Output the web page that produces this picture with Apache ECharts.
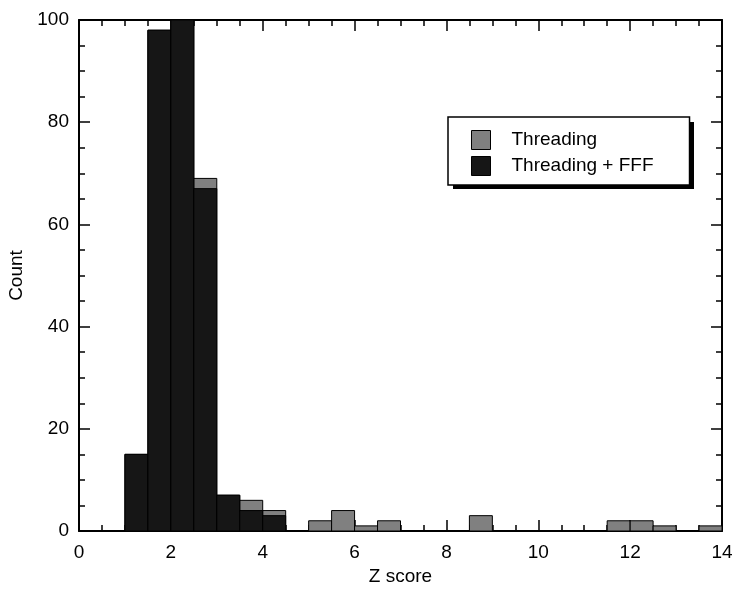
<!DOCTYPE html>
<html>
<head>
<meta charset="utf-8">
<script src="https://cdn.jsdelivr.net/npm/echarts@6/dist/echarts.min.js"></script>
<style>
  html, body { margin: 0; padding: 0; background: #fff; }
  #main { width: 732px; height: 590px; }
</style>
</head>
<body>
<div id="main"></div>
<script>
// histogram bins, width 0.5 (lower edge -> count)
var binWidth = 0.5;
var threadingEdges = [1, 1.5, 2, 2.5, 3, 3.5, 4, 5, 5.5, 6, 6.5, 8.5, 11.5, 12, 12.5, 13.5];
var threadingCounts = [15, 98, 100, 69, 7, 6, 4, 2, 4, 1, 2, 3, 2, 2, 1, 1];
var fffEdges = [1, 1.5, 2, 2.5, 3, 3.5, 4];
var fffCounts = [15, 98, 100, 67, 7, 4, 3];
var xTicks = [0, 2, 4, 6, 8, 10, 12, 14];
var yTicks = [0, 20, 40, 60, 80, 100];

var font = 'Liberation Sans, Arial, Helvetica, sans-serif';

function toBins(edges, counts) {
  var out = [];
  for (var i = 0; i < edges.length; i++) {
    out.push([edges[i], edges[i] + binWidth, counts[i]]);
  }
  return out;
}

function renderBin(params, api) {
  var top = api.coord([api.value(0), api.value(2)]);
  var bottom = api.coord([api.value(1), 0]);
  return {
    type: 'rect',
    shape: { x: top[0], y: top[1], width: bottom[0] - top[0], height: bottom[1] - top[1] },
    style: api.style()
  };
}

var chart = echarts.init(document.getElementById('main'));

// same frame style on all four sides, ticks pointing in
function frameAxis(extra) {
  var a = {
    type: 'value',
    axisLine: { show: true, onZero: false, lineStyle: { color: '#000', width: 2 } },
    axisTick: { show: true, inside: true, length: 11, lineStyle: { color: '#000', width: 1.5 } },
    minorTick: { show: true, splitNumber: 4, length: 6, lineStyle: { color: '#000', width: 1.5 } },
    axisLabel: { show: false },
    splitLine: { show: false }
  };
  for (var k in extra) a[k] = extra[k];
  return a;
}

var labelStyle = { show: true, fontFamily: font, fontSize: 19, color: '#000' };

var option = {
  backgroundColor: '#fff',
  animation: false,
  grid: { left: 79, right: 10, top: 20, bottom: 59, outerBoundsMode: 'none' },
  graphic: [{
    // legend drop shadow
    type: 'rect',
    left: 453,
    top: 122,
    shape: { width: 241, height: 67 },
    style: { fill: '#000' },
    z: 3
  }],
  legend: {
    orient: 'vertical',
    left: 448,
    top: 117,
    padding: [13, 36, 9, 23],
    itemWidth: 19,
    itemHeight: 19,
    itemGap: 6,
    icon: 'rect',
    backgroundColor: '#fff',
    borderColor: '#000',
    borderWidth: 1.5,
    z: 5,
    itemStyle: { borderColor: '#000', borderWidth: 1 },
    textStyle: { fontFamily: font, fontSize: 19, color: '#000', padding: [0, 0, 0, 16] },
    data: ['Threading', 'Threading + FFF']
  },
  xAxis: [frameAxis({
    min: xTicks[0],
    max: xTicks[xTicks.length - 1],
    interval: 2,
    name: 'Z score',
    nameLocation: 'middle',
    nameGap: 36,
    nameTextStyle: { fontFamily: font, fontSize: 19, color: '#000' },
    axisLabel: Object.assign({ margin: 12 }, labelStyle)
  }), frameAxis({
    position: 'top',
    min: xTicks[0],
    max: xTicks[xTicks.length - 1],
    interval: 2
  })],
  yAxis: [frameAxis({
    min: yTicks[0],
    max: yTicks[yTicks.length - 1],
    interval: 20,
    name: 'Count',
    nameLocation: 'middle',
    nameGap: 52,
    nameTextStyle: { fontFamily: font, fontSize: 19, color: '#000' },
    axisLabel: Object.assign({ margin: 10 }, labelStyle)
  }), frameAxis({
    position: 'right',
    min: yTicks[0],
    max: yTicks[yTicks.length - 1],
    interval: 20
  })],
  series: [{
    name: 'Threading',
    type: 'custom',
    renderItem: renderBin,
    encode: { x: [0, 1], y: 2 },
    itemStyle: { color: '#808080', borderColor: '#000', borderWidth: 1 },
    data: toBins(threadingEdges, threadingCounts),
    z: 1
  }, {
    name: 'Threading + FFF',
    type: 'custom',
    renderItem: renderBin,
    encode: { x: [0, 1], y: 2 },
    itemStyle: { color: '#161616', borderColor: '#000', borderWidth: 1 },
    data: toBins(fffEdges, fffCounts),
    z: 2
  }]
};

chart.setOption(option);
</script>
</body>
</html>
